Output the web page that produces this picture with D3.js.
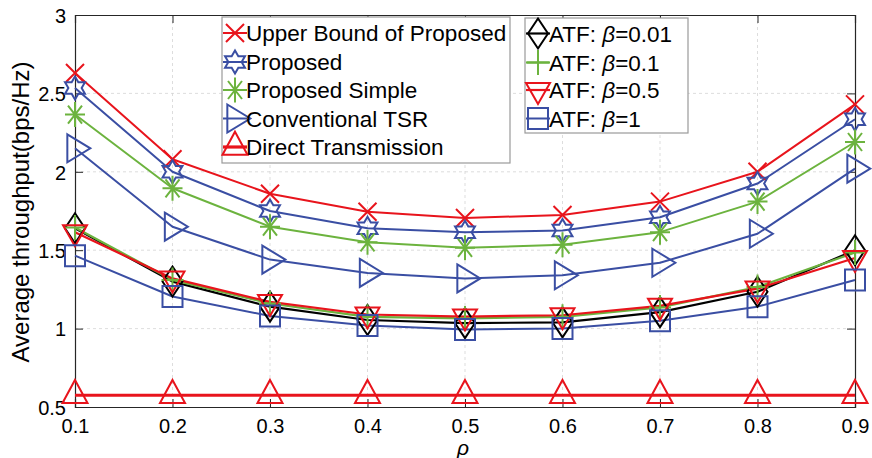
<!DOCTYPE html>
<html><head><meta charset="utf-8">
<script src="https://cdn.jsdelivr.net/npm/d3@7"></script>
<style>body{margin:0;background:#fff}svg{display:block}text{font-family:"Liberation Sans",Arial,sans-serif;fill:#000}</style>
</head><body>
<svg id="chart" width="872" height="458"></svg>
<script>
const rho = [0.1,0.2,0.3,0.4,0.5,0.6,0.7,0.8,0.9];
const xTicks = [0.1,0.2,0.3,0.4,0.5,0.6,0.7,0.8,0.9];
const yTicks = [0.5,1,1.5,2,2.5,3];
const upperBound   = [2.63,2.08,1.86,1.745,1.705,1.725,1.81,2.00,2.43];
const proposed     = [2.535,2.00,1.75,1.64,1.615,1.625,1.71,1.925,2.335];
const proposedSimple = [2.365,1.895,1.65,1.55,1.515,1.535,1.615,1.81,2.19];
const conventionalTSR = [2.15,1.65,1.44,1.355,1.32,1.34,1.42,1.605,2.02];
const directTx     = [0.575,0.575,0.575,0.575,0.575,0.575,0.575,0.575,0.575];
const atf001       = [1.64,1.30,1.14,1.055,1.035,1.04,1.105,1.235,1.50];
const atf01        = [1.645,1.31,1.16,1.075,1.065,1.075,1.135,1.265,1.485];
const atf05        = [1.615,1.32,1.17,1.09,1.077,1.085,1.145,1.255,1.45];
const atf1         = [1.465,1.205,1.08,1.02,0.995,1.0,1.05,1.14,1.31];

const RED="#e8141c", BLUE="#3a4ea3", GREEN="#6cb33e", BLACK="#000";

const series = [
  {name:"Upper Bound of Proposed", v:upperBound, c:RED, m:"x", lw:2},
  {name:"Proposed", v:proposed, c:BLUE, m:"hex", lw:2},
  {name:"Proposed Simple", v:proposedSimple, c:GREEN, m:"ast", lw:2},
  {name:"Conventional TSR", v:conventionalTSR, c:BLUE, m:"tri>", lw:2},
  {name:"Direct Transmission", v:directTx, c:RED, m:"tri^", lw:3.2},
  {name:"ATF: ", beta:"0.01", v:atf001, c:BLACK, m:"dia", lw:2.2},
  {name:"ATF: ", beta:"0.1", v:atf01, c:GREEN, m:"plus", lw:2.2},
  {name:"ATF: ", beta:"0.5", v:atf05, c:RED, m:"triv", lw:2.2},
  {name:"ATF: ", beta:"1", v:atf1, c:BLUE, m:"sq", lw:2}
];

function markerPath(m){
  switch(m){
    case "x": {const h=9; return `M${-h},${-h}L${h},${h}M${-h},${h}L${h},${-h}`;}
    case "hex": {
      const R=11.5, r=R/Math.sqrt(3); let p=[];
      for(let k=0;k<12;k++){const a=(-90+k*30)*Math.PI/180; const rr=k%2===0?R:r; p.push([rr*Math.cos(a), rr*Math.sin(a)]);}
      return "M"+p.map(q=>q[0].toFixed(2)+","+q[1].toFixed(2)).join("L")+"Z";}
    case "ast": {const w=10,h=12.5,dw=7,dh=9; return `M${-w},0L${w},0M0,${-h}L0,${h}M${-dw},${-dh}L${dw},${dh}M${-dw},${dh}L${dw},${-dh}`;}
    case "tri>": {const w=23,h=28; return `M${-w/3},${-h/2}L${2*w/3},0L${-w/3},${h/2}Z`;}
    case "tri^": {const w=25,h=23; return `M0,${-2*h/3}L${w/2},${h/3}L${-w/2},${h/3}Z`;}
    case "triv": {const w=24,h=21; return `M${-w/2},${-h/3}L${w/2},${-h/3}L0,${2*h/3}Z`;}
    case "dia": {const w=10,h=15; return `M0,${-h}L${w},0L0,${h}L${-w},0Z`;}
    case "plus": {const w=11,h=12.5; return `M${-w},0L${w},0M0,${-h}L0,${h}`;}
    case "sq": {const w=10,h=10.5; return `M${-w},${-h}L${w},${-h}L${w},${h}L${-w},${h}Z`;}
  }
}

const svg = d3.select("#chart");
const L=75, R=855, T=15, B=407;
const x = d3.scaleLinear().domain([0.1,0.9]).range([L,R]);
const y = d3.scaleLinear().domain([0.5,3]).range([B,T]);

// grid
const g = svg.append("g");
g.selectAll(".gx").data(xTicks.slice(1,-1)).enter().append("line")
  .attr("x1",d=>x(d)).attr("x2",d=>x(d)).attr("y1",T).attr("y2",B)
  .attr("stroke","#d4d4d4").attr("stroke-width",0.8).attr("stroke-dasharray","3,3");
g.selectAll(".gy").data(yTicks.slice(1,-1)).enter().append("line")
  .attr("x1",L).attr("x2",R).attr("y1",d=>y(d)).attr("y2",d=>y(d))
  .attr("stroke","#d4d4d4").attr("stroke-width",0.8).attr("stroke-dasharray","3,3");

// axes using d3 axes (inward ticks)
const axCol="#262626";
const xb = svg.append("g").attr("transform",`translate(0,${B})`).call(d3.axisBottom(x).tickValues(xTicks).tickSize(-8).tickPadding(12).tickFormat(d3.format(".1f")));
const xt = svg.append("g").attr("transform",`translate(0,${T})`).call(d3.axisTop(x).tickValues(xTicks).tickSize(-8).tickFormat(""));
const yl = svg.append("g").attr("transform",`translate(${L},0)`).call(d3.axisLeft(y).tickValues(yTicks).tickSize(-8).tickPadding(9).tickFormat(d3.format("~g")));
const yr = svg.append("g").attr("transform",`translate(${R},0)`).call(d3.axisRight(y).tickValues(yTicks).tickSize(-8).tickFormat(""));
[xb,xt,yl,yr].forEach(a=>{
  a.select(".domain").attr("stroke",axCol).attr("stroke-width",1.2);
  a.selectAll(".tick line").attr("stroke",axCol).attr("stroke-width",1);
  a.selectAll("text").attr("font-size",20).attr("fill","#000").style("font-family","Liberation Sans, Arial, sans-serif");
});
xb.selectAll(".tick text").attr("dy","0.71em");
yl.selectAll(".tick text").attr("dy","0.36em");

// series lines and markers
const line = d3.line().x((d,i)=>x(rho[i])).y(d=>y(d));
const plot = svg.append("g");
series.forEach(s=>{
  plot.append("path").attr("d",line(s.v)).attr("fill","none").attr("stroke",s.c).attr("stroke-width",s.lw).attr("stroke-linejoin","round");
});
series.forEach(s=>{
  plot.selectAll(null).data(s.v).enter().append("path")
    .attr("transform",(d,i)=>`translate(${x(rho[i])},${y(d)})`)
    .attr("d",markerPath(s.m)).attr("fill","none").attr("stroke",s.c).attr("stroke-width",2);
});

// axis labels
svg.append("text").attr("transform","translate(29,212) rotate(-90)").attr("text-anchor","middle")
  .attr("font-size",24).text("Average throughput(bps/Hz)");
svg.append("text").attr("x",463).attr("y",455).attr("text-anchor","middle").attr("font-size",21)
  .attr("font-style","italic").text("ρ");

// legends
function legend(items, bx, by, bw, bh, mx, tx, rows){
  const lg = svg.append("g");
  lg.append("rect").attr("x",bx).attr("y",by).attr("width",bw).attr("height",bh)
    .attr("fill","#fff").attr("stroke","#9a9a9a").attr("stroke-width",1.2);
  items.forEach((s,i)=>{
    const cy = rows[i];
    lg.append("line").attr("x1",mx-12).attr("x2",mx+12).attr("y1",cy).attr("y2",cy).attr("stroke",s.c).attr("stroke-width",s.lw);
    lg.append("path").attr("transform",`translate(${mx},${cy})`).attr("d",markerPath(s.m)).attr("fill","none").attr("stroke",s.c).attr("stroke-width",2);
    const t = lg.append("text").attr("x",tx).attr("y",cy).attr("dy","0.36em").attr("font-size",22.5);
    t.append("tspan").text(s.name);
    if(s.beta){ t.append("tspan").attr("font-style","italic").text("β"); t.append("tspan").text("="+s.beta); }
  });
}
legend(series.slice(0,5), 222, 17, 288, 146, 235, 246, [33,62,90,118.5,147]);
legend(series.slice(5), 525, 18, 163, 115, 538, 549, [33.5,62.5,90,118.5]);
</script>
</body></html>
